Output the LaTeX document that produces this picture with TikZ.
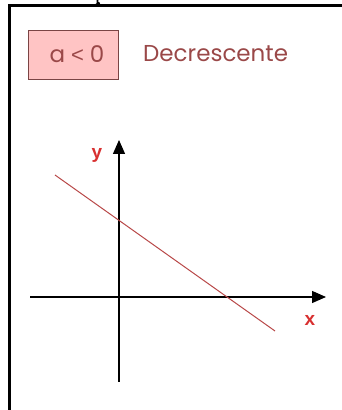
\documentclass[tikz,border=0pt]{standalone}
\usepackage{fontspec}
\setmainfont{Poppins}
\newfontfamily\lblfont{Liberation Sans}
\usetikzlibrary{arrows.meta}
\definecolor{boxfill}{HTML}{FFC4C4}
\definecolor{boxdraw}{HTML}{7A4444}
\definecolor{txtred}{HTML}{9A4848}
\definecolor{linered}{HTML}{B84848}
\definecolor{lblred}{HTML}{D83030}
\tikzset{
  frame/.style={line width=2.6pt, black},
  axis/.style={line width=1.4pt, black, -{Triangle[length=14pt,width=12pt]}},
  graphline/.style={line width=1pt, linered},
  axlabel/.style={text=lblred, font=\lblfont\bfseries\fontsize{19}{19}\selectfont, inner sep=0pt},
  condtext/.style={text=txtred, font=\fontsize{23}{23}\selectfont, inner sep=0pt},
  condbox/.style={draw=boxdraw, fill=boxfill, line width=1pt, minimum width=90pt, minimum height=49pt, inner sep=0pt}
}
\begin{document}
\begin{tikzpicture}[x=1pt,y=1pt]
\useasboundingbox (0,0) rectangle (342,410);
% frame
\coordinate (fTL) at (9.7,404.2);
\coordinate (fTR) at (342,404.2);
\coordinate (fBL) at (9.7,0);
\draw[frame] (fTR) -- (fTL) -- (fBL);
% cedilla fragment
\draw[line width=1.6pt] (97.5,410) -- (97.5,407.5) .. controls (100,407) and (100,405.5) .. (96,405.7);
% condition box
\node[condbox] (cond) at (73,355) {};
\node[condtext, anchor=center] (condtxt) at (77,356) {a\hspace{6pt}{\lblfont\fontsize{22}{22}\selectfont<}\hspace{6pt}0};
\node[condtext, anchor=west] (dec) at (143,356) {Decrescente};
% axes
\coordinate (xs) at (30,113);
\coordinate (xe) at (326,113);
\coordinate (ys) at (119,28);
\coordinate (ye) at (119,270);
\draw[axis] (xs) -- (xe);
\draw[axis] (ys) -- (ye);
\node[axlabel] (ylab) at (97,255) {y};
\node[axlabel] (xlab) at (310,90) {x};
% line
\coordinate (la) at (55,235);
\coordinate (lb) at (275,79);
\draw[graphline] (la) -- (lb);
\end{tikzpicture}
\end{document}
